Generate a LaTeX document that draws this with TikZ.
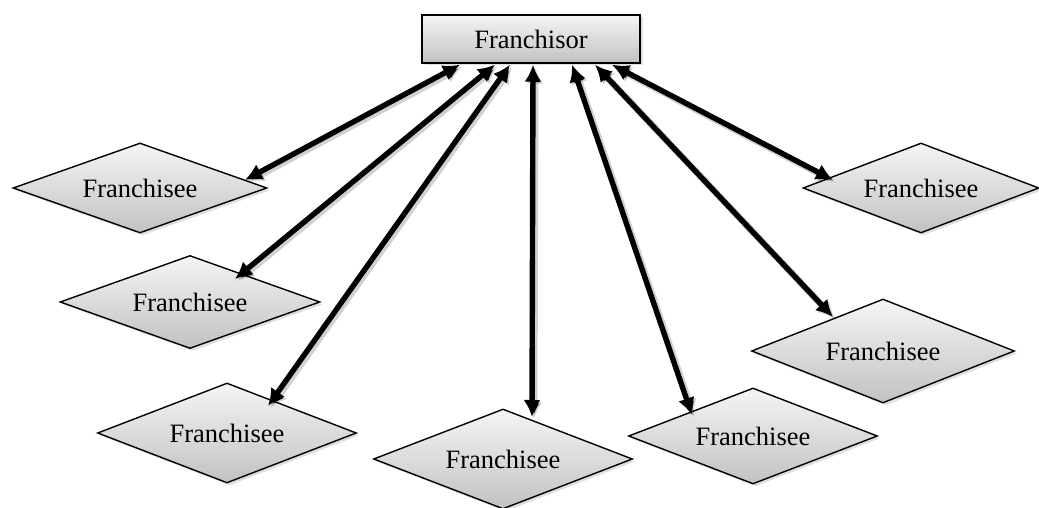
\documentclass[tikz,border=0pt]{standalone}
\usepackage{fontspec}
\setmainfont{Liberation Serif}
\usetikzlibrary{shapes.geometric,arrows.meta,shadows}
\begin{document}
\begin{tikzpicture}[x=1pt,y=1pt,
  font=\fontsize{26.5}{30}\selectfont,
  boxfill/.style={top color=white!96!black, bottom color=black!24,
    draw=black, line width=1.4pt,
    drop shadow={opacity=0.25, shadow xshift=2.5pt, shadow yshift=-2.5pt}},
  headbox/.style={boxfill, rectangle, minimum width=218pt, minimum height=48pt, inner sep=0pt},
  % diamond: width, height, width/height ratio
  unit/.style n args={3}{boxfill, diamond, inner sep=0pt,
    minimum width=#1, minimum height=#2, aspect=#3},
  tips/.style={{Latex[length=17pt,width=17pt]}-{Latex[length=17pt,width=17pt]}},
  link/.style={line width=5.4pt, tips,
    preaction={draw=black, draw opacity=0.18, line width=7pt,
      transform canvas={shift={(2pt,-2pt)}}}}]
\useasboundingbox (0,0) rectangle (1039,508);

\node[headbox] (hq) at (531,469) {Franchisor};

\node[unit={254pt}{90pt}{2.822}]  (d1) at (140,320) {Franchisee};
\node[unit={260pt}{93pt}{2.796}]  (d2) at (190,206) {Franchisee};
\node[unit={259pt}{100pt}{2.59}]  (d3) at (227,75)  {Franchisee};
\node[unit={259pt}{100pt}{2.59}]  (d4) at (503,49)  {Franchisee};
\node[unit={249pt}{96pt}{2.594}]  (d5) at (753,72)  {Franchisee};
\node[unit={263pt}{104pt}{2.529}] (d6) at (883,157) {Franchisee};
\node[unit={236pt}{90pt}{2.622}]  (d7) at (921,320) {Franchisee};

\draw[link] ([shift={(-71,-1)}]hq.south) -- ([shift={(105,8)}]d1.center);
\draw[link] ([shift={(-36,-1)}]hq.south) -- ([shift={(45,23)}]d2.center);
\draw[link] ([shift={(-21,-1)}]hq.south) -- ([shift={(41,27)}]d3.center);
\draw[link] ([shift={(2,-1)}]hq.south)   -- ([shift={(29,42)}]d4.center);
\draw[link] ([shift={(41,-1)}]hq.south)  -- ([shift={(-61,21)}]d5.center);
\draw[link] ([shift={(64,-1)}]hq.south)  -- ([shift={(-50,34)}]d6.center);
\draw[link] ([shift={(81,-1)}]hq.south)  -- ([shift={(-88,8)}]d7.center);
\end{tikzpicture}
\end{document}
